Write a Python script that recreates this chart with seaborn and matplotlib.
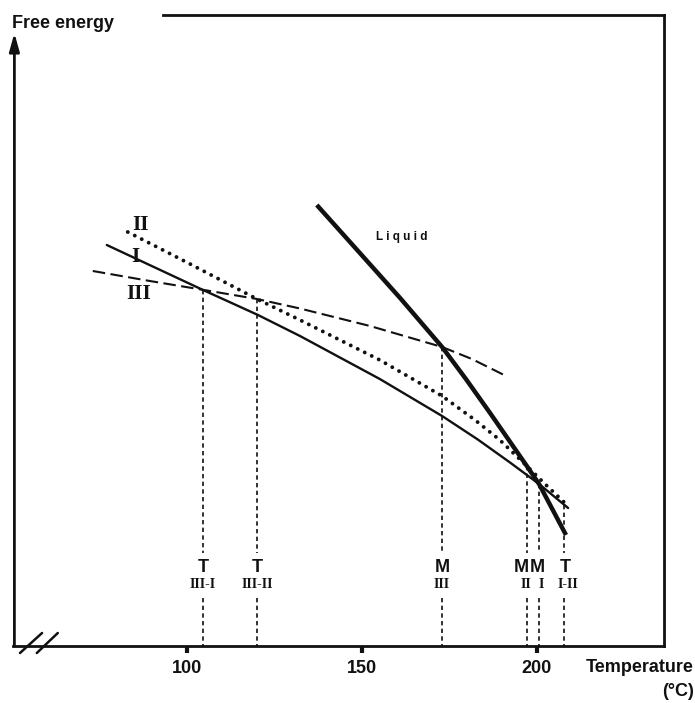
import numpy as np
import pandas as pd
import matplotlib
matplotlib.use("Agg")
import matplotlib.pyplot as plt
import seaborn as sns

# ---- data (temperature in deg C, free energy in arbitrary units) ----
T_I = [77.1, 104.6, 120.3, 132.3, 155.1, 172.9, 183.1, 192.3, 200.6, 208.9]
G_I = [401, 356, 331, 310, 267, 230, 206.5, 183.5, 162, 138]

T_II = [83.1, 100.9, 120.0, 132.3, 155.1, 172.9, 182.3, 189.4, 197.1, 202.3, 208.6]
G_II = [414, 382, 347, 326, 286, 250, 226, 206, 180, 162, 141]

T_III = [73.1, 89.4, 104.9, 120.0, 132.3, 152.3, 172.9, 181.4, 190.6]
G_III = [375, 365, 356, 347, 337.5, 320, 299, 287, 271]

T_LIQ = [137.1, 149.4, 160.9, 172.9, 179.7, 186.6, 197.1, 200.6, 208.3]
G_LIQ = [441, 393, 348, 299, 267, 233, 180, 162, 111]

trans_T = [104.6, 120.0, 172.9, 197.1, 200.6, 207.7]
trans_G = [356, 347, 299, 180, 162, 141]
trans_main = ["T", "T", "M", "M", "M", "T"]
trans_sub = ["III-I", "III-II", "III", "II", "I", "I-II"]
trans_label_x = [104.6, 120.0, 172.9, 195.6, 200.2, 208.0]
trans_sub_x = [104.6, 120.0, 172.9, 196.9, 201.1, 208.9]

curve_names = ["II", "I", "III"]
curve_label_T = [86.6, 85.4, 86.3]
curve_label_G = [421, 389, 352]

xticks = [100, 150, 200]

# ---- figure ----
sns.set_theme(style="white")
plt.rcParams["font.family"] = ["Liberation Sans", "DejaVu Sans"]

W, H = 695, 703
fig = plt.figure(figsize=(W / 100, H / 100), dpi=100)
ax = fig.add_axes([13 / W, 1 - 646 / H, (664 - 13) / W, (646 - 15) / H])

XMIN, XMAX = 50.3, 236.3
YMIN, YMAX = 0, 631
ax.set_xlim(XMIN, XMAX)
ax.set_ylim(YMIN, YMAX)

ink = "#111111"

df_I = pd.DataFrame({"T": T_I, "G": G_I})
df_II = pd.DataFrame({"T": T_II, "G": G_II})
df_III = pd.DataFrame({"T": T_III, "G": G_III})
df_L = pd.DataFrame({"T": T_LIQ, "G": G_LIQ})

sns.lineplot(data=df_I, x="T", y="G", ax=ax, color=ink, lw=1.7,
             sort=False, estimator=None)
sns.lineplot(data=df_II, x="T", y="G", ax=ax, color=ink, lw=2.8,
             linestyle=(0, (0.01, 2.0)), dash_capstyle="round",
             sort=False, estimator=None)
sns.lineplot(data=df_III, x="T", y="G", ax=ax, color=ink, lw=1.5,
             linestyle=(0, (6.0, 2.6)), sort=False, estimator=None)
sns.lineplot(data=df_L, x="T", y="G", ax=ax, color=ink, lw=3.2,
             solid_capstyle="butt", solid_joinstyle="round",
             sort=False, estimator=None)

# vertical transition lines with labels
G_upper_end = 93
G_lower_start = 48
vdash = (0, (2.6, 2.0))
for t, g, m, s, lx, sx in zip(trans_T, trans_G, trans_main, trans_sub,
                             trans_label_x, trans_sub_x):
    ax.plot([t, t], [g, G_upper_end], color=ink, lw=1.2, linestyle=vdash)
    ax.plot([t, t], [G_lower_start, 0], color=ink, lw=1.2, linestyle=vdash)
    ax.text(lx, 78, m, ha="center", va="center", fontsize=13,
            fontweight="bold", color=ink)
    ax.text(sx, 61, s, ha="center", va="center", fontsize=10,
            fontweight="bold", color=ink, family=["Liberation Serif"])

# curve labels
for name, t, g in zip(curve_names, curve_label_T, curve_label_G):
    ax.text(t, g, name, ha="center", va="center", fontsize=15,
            fontweight="bold", color=ink, family=["Liberation Serif"])

ax.text(161.4, 409, "L i q u i d", ha="center", va="center", fontsize=8.5,
        fontweight="bold", color=ink)

# frame / axes
for sp in ["left", "top", "right", "bottom"]:
    ax.spines[sp].set_color(ink)
    ax.spines[sp].set_linewidth(2.0)
ax.spines["left"].set_visible(False)
ax.spines["top"].set_bounds(93.1, XMAX)

ax.annotate("", xy=(XMIN + 0.4, 613), xytext=(XMIN + 0.4, 0),
            arrowprops=dict(arrowstyle="-|>,head_length=0.9,head_width=0.25",
                            color=ink, lw=2.0, shrinkA=0, shrinkB=0),
            annotation_clip=False)

# axis break marks
for x0, x1 in [(52.3, 58.6), (57.1, 63.1)]:
    ax.plot([x0, x1], [-7, 13], color=ink, lw=1.8, clip_on=False)

ax.set_xticks(xticks)
ax.set_xticklabels([str(v) for v in xticks], fontsize=13, fontweight="bold")
ax.tick_params(axis="x", direction="out", length=5, width=3, color=ink,
               pad=5, bottom=True, labelcolor=ink)
ax.set_yticks([])
ax.set_xlabel("")
ax.set_ylabel("")

fig.text(12 / W, 1 - 24 / H, "Free energy", ha="left", va="center",
         fontsize=13, fontweight="bold", color=ink)
fig.text(694 / W, 1 - 668 / H, "Temperature", ha="right", va="center",
         fontsize=13, fontweight="bold", color=ink)
fig.text(694 / W, 1 - 692 / H, "(°C)", ha="right", va="center",
         fontsize=13, fontweight="bold", color=ink)

fig.savefig("out.png", dpi=100, facecolor="white")
